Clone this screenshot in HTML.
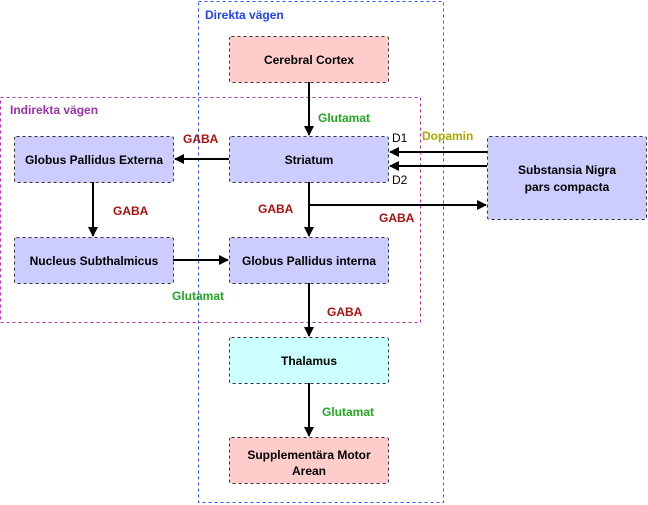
<!DOCTYPE html>
<html><head><meta charset="utf-8"><style>
html,body{margin:0;padding:0;background:#fff;}
svg{display:block;font-family:"Liberation Sans",Arial,sans-serif;}
.b{stroke:#333;stroke-width:1;stroke-dasharray:3,3;}
.t{font-size:12px;font-weight:bold;fill:#000;text-anchor:middle;}
.l{font-size:12px;font-weight:bold;}
.ln{stroke:#000;stroke-width:2;fill:none;}
</style></head><body>
<svg width="648" height="505" viewBox="0 0 648 505">
<defs><marker id="a" markerWidth="10" markerHeight="10" refX="9" refY="5" orient="auto" markerUnits="userSpaceOnUse"><path d="M0,0 L10,5 L0,10 Z" fill="#000"/></marker></defs>
<rect x="198.5" y="1.5" width="245" height="501" fill="none" stroke="#3355ff" stroke-dasharray="3,3"/>
<text x="205" y="19" class="l" fill="#2244ee">Direkta vägen</text>
<rect x="0.5" y="97.5" width="420" height="225" fill="none" stroke="#aa33aa" stroke-dasharray="3,3"/>
<text x="10" y="114" class="l" fill="#9933aa">Indirekta vägen</text>

<rect x="229.5" y="36.5" width="159" height="46" rx="2" fill="#ffcccc" class="b"/>
<text x="309" y="64" class="t">Cerebral Cortex</text>
<rect x="229.5" y="136.5" width="159" height="46" rx="2" fill="#ccccff" class="b"/>
<text x="309" y="164" class="t">Striatum</text>
<rect x="14.5" y="136.5" width="159" height="46" rx="2" fill="#ccccff" class="b"/>
<text x="94" y="164" class="t">Globus Pallidus Externa</text>
<rect x="14.5" y="237.5" width="159" height="46" rx="2" fill="#ccccff" class="b"/>
<text x="94" y="265" class="t">Nucleus Subthalmicus</text>
<rect x="229.5" y="237.5" width="159" height="46" rx="2" fill="#ccccff" class="b"/>
<text x="309" y="265" class="t">Globus Pallidus interna</text>
<rect x="487.5" y="136.5" width="159" height="83" rx="2" fill="#ccccff" class="b"/>
<text x="567" y="174" class="t">Substansia Nigra</text>
<text x="567" y="191" class="t">pars compacta</text>
<rect x="229.5" y="337.5" width="159" height="46" rx="2" fill="#ccffff" class="b"/>
<text x="309" y="365" class="t">Thalamus</text>
<rect x="229.5" y="437.5" width="159" height="46" rx="2" fill="#ffcccc" class="b"/>
<text x="309" y="459" class="t">Supplementära Motor</text>
<text x="309" y="475" class="t">Arean</text>

<line x1="309" y1="82" x2="309" y2="135" class="ln" marker-end="url(#a)"/>
<line x1="229" y1="159" x2="175" y2="159" class="ln" marker-end="url(#a)"/>
<line x1="487" y1="152" x2="390" y2="152" class="ln" marker-end="url(#a)"/>
<line x1="487" y1="166" x2="390" y2="166" class="ln" marker-end="url(#a)"/>
<line x1="309" y1="182" x2="309" y2="236" class="ln" marker-end="url(#a)"/>
<line x1="309" y1="205" x2="486" y2="205" class="ln" marker-end="url(#a)"/>
<line x1="93" y1="182" x2="93" y2="236" class="ln" marker-end="url(#a)"/>
<line x1="173" y1="260" x2="228" y2="260" class="ln" marker-end="url(#a)"/>
<line x1="309" y1="283" x2="309" y2="336" class="ln" marker-end="url(#a)"/>
<line x1="309" y1="383" x2="309" y2="436" class="ln" marker-end="url(#a)"/>

<text x="318" y="122" class="l" fill="#22aa22">Glutamat</text>
<text x="183" y="143" class="l" fill="#aa1111">GABA</text>
<text x="113" y="215" class="l" fill="#aa1111">GABA</text>
<text x="258" y="213" class="l" fill="#aa1111">GABA</text>
<text x="379" y="222" class="l" fill="#aa1111">GABA</text>
<text x="172" y="300" class="l" fill="#22aa22">Glutamat</text>
<text x="327" y="316" class="l" fill="#aa1111">GABA</text>
<text x="322" y="416" class="l" fill="#22aa22">Glutamat</text>
<text x="422" y="140" class="l" fill="#aaaa00">Dopamin</text>
<text x="392" y="142" font-size="12" fill="#000">D1</text>
<text x="392" y="184" font-size="12" fill="#000">D2</text>
</svg>
</body></html>
